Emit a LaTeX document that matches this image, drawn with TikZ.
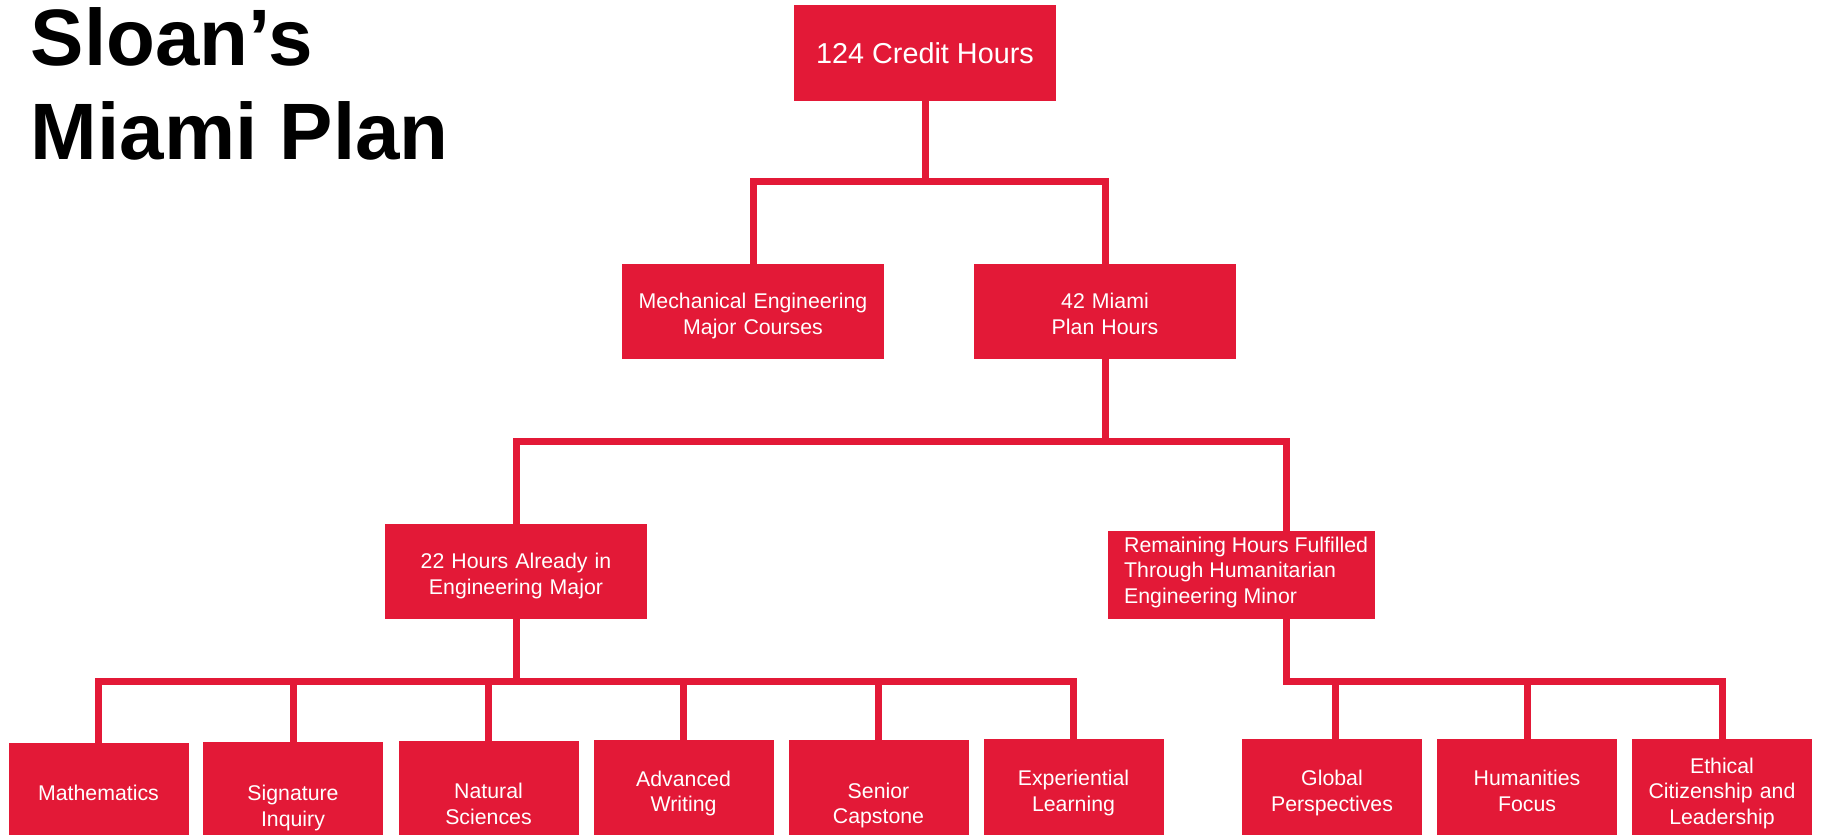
\documentclass[tikz,border=0pt]{standalone}
\usepackage{fontspec}
\setmainfont{Liberation Sans}
\definecolor{mred}{RGB}{227,25,55}
\begin{document}
\begin{tikzpicture}[x=0.5pt,y=-0.5pt,
  redbox/.style={fill=mred,text=white,inner sep=0pt,font=\fontsize{10.65}{12.8}\selectfont},
  box/.style={redbox,minimum width=131pt,minimum height=47.5pt,text width=125pt,align=center,
    execute at begin node={\rule{0pt}{13pt}},
    execute at end node={\rule[-2.8pt]{0pt}{2.8pt}}},
  leaf/.style={box,minimum width=90pt,text width=86pt,anchor=north},
  conn/.style={draw=mred,line width=3.5pt,line join=miter},
  ttl/.style={anchor=base west,inner sep=0pt,font=\bfseries\fontsize{40}{47}\selectfont}]
\useasboundingbox (0,0) rectangle (1822,835);
\clip (0,0) rectangle (1822,835);
% title
\node[ttl] (t1) at (30.5,65) {Sloan’s};
\node[ttl] (t2) at (30.5,159) {Miami Plan};
% boxes
\node[redbox,minimum width=131pt,minimum height=48pt,font=\fontsize{14.4}{17}\selectfont] (top) at (925,53) {124 Credit Hours};
\node[box] (mech) at (753,311.5) {Mechanical Engineering\\Major Courses};
\node[box] (miami) at (1105,311.5) {42 Miami\\Plan Hours};
\node[box] (hrs) at (516,571.5) {22 Hours Already in\\Engineering Major};
\node[redbox,minimum width=133.5pt,minimum height=44pt,align=left,
  execute at begin node={\rule{0pt}{9pt}},
  execute at end node={\rule[-5.1pt]{0pt}{5.1pt}}] (remain) at (1241.5,575)
  {\hspace*{4.6pt}Remaining Hours Fulfilled\\\hspace*{4.6pt}Through Humanitarian\\\hspace*{4.6pt}Engineering Minor};
% leaves (the slide cuts them off at the bottom)
\node[leaf,minimum height=47pt] (m1) at (98.5,743) {Mathematics};
\node[leaf,minimum height=61pt] (m2) at (293,742) {Signature\\Inquiry};
\node[leaf,minimum height=60pt] (m3) at (488.5,741) {Natural\\Sciences};
\node[leaf,minimum height=48.5pt] (m4) at (683.5,740) {Advanced\\Writing};
\node[leaf,minimum height=60.5pt] (m5) at (878.5,740) {Senior\\Capstone};
\node[leaf,minimum height=49pt] (m6) at (1073.5,739) {Experiential\\Learning};
\node[leaf,minimum height=49pt] (g1) at (1332,739) {Global\\Perspectives};
\node[leaf,minimum height=49pt] (g2) at (1527,739) {Humanities\\Focus};
\node[leaf,minimum height=49pt] (g3) at (1722,739) {Ethical\\Citizenship and\\Leadership};
% junction coordinates
\coordinate (b1) at (925,181);
\coordinate (b2) at (1105,441);
\coordinate (b3) at (516,681);
\path (remain.north) ++(44.5,0) coordinate (rj);
\path (remain.south) ++(44.5,0) coordinate (rs);
\path (g1.north) ++(3.5,0) coordinate (gj);
% connectors
\draw[conn] (top.south) -- (b1);
\draw[conn] (mech.north) |- (b1) -| (miami.north);
\draw[conn] (miami.south) -- (b2);
\draw[conn] (hrs.north) |- (b2) -| (rj);
\draw[conn] (hrs.south) -- (b3);
\draw[conn] (m1.north) |- (b3) -| (m6.north);
\foreach \n in {m2,m3,m4,m5} \draw[conn] (\n.north) -- (\n.north |- b3);
\draw[conn] (rs) |- (g3.north |- b3) -- (g3.north);
\draw[conn] (gj) -- (gj |- b3);
\draw[conn] (g2.north) -- (g2.north |- b3);
\end{tikzpicture}
\end{document}
